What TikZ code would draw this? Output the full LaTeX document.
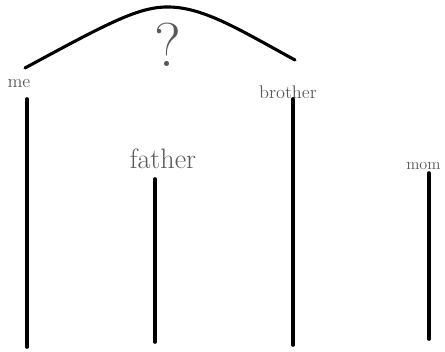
\documentclass[tikz,border=0pt]{standalone}
\usepackage{tikz}

\tikzset{
  stroke/.style={line width=2.6pt, line cap=round},
  word/.style={text=black!65, inner sep=0pt, font=\fontsize{#1}{#1}\selectfont},
}

\begin{document}
\begin{tikzpicture}[x=0.025cm, y=-0.025cm]
  \useasboundingbox (0,0) rectangle (445,351);
  % arch over me and brother
  \draw[line width=2.2pt, line cap=round] (25,68) .. controls (110,22) and (140,6) .. (170,7)
    .. controls (205,8) and (240,30) .. (295,60);
  \node[word=44] (ask) at (168,45) {?};
  % labels
  \node[word=13] (me) at (19,84) {me};
  \node[word=13] (brother) at (288,92) {brother};
  \node[word=20] (father) at (163,159) {father};
  \node[word=11.5, anchor=west] (mom) at (406,166) {mom};
  % lines
  \draw[stroke] (27,99) -- (27,347);
  \draw[stroke] (155,179) -- (155,342);
  \draw[stroke] (293,99) -- (293,345);
  \draw[stroke] (429,173) -- (429,339);
\end{tikzpicture}
\end{document}
